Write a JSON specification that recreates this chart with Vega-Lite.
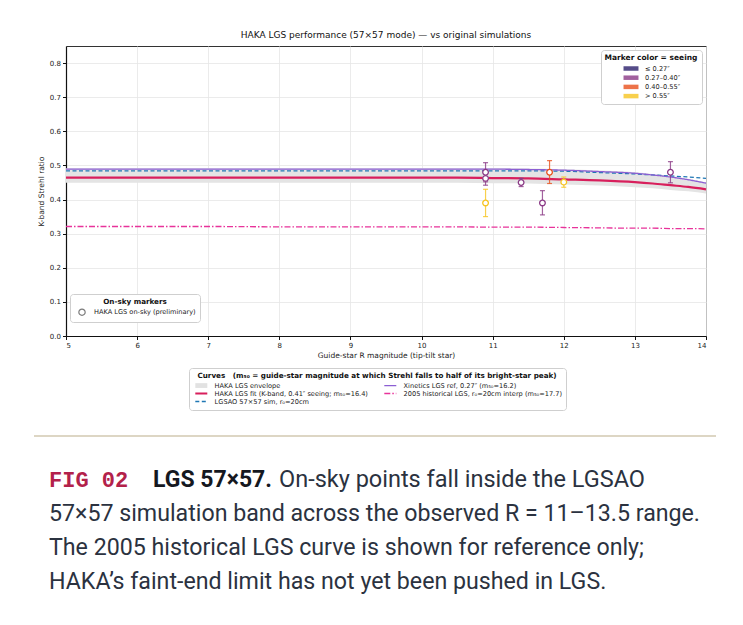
{
  "$schema": "https://vega.github.io/schema/vega-lite/v6.json",
  "background": "white",
  "padding": {"left": 33, "top": 30, "right": 20, "bottom": 10},
  "spacing": 75,
  "config": {
    "font": "DejaVu Sans",
    "view": {"stroke": "#333", "strokeWidth": 1},
    "axis": {"labelFontSize": 7, "titleFontSize": 7.5, "titleFontWeight": "normal", "gridColor": "#e6e6e6", "gridWidth": 0.8, "domainColor": "#111", "domainWidth": 1.2, "tickColor": "#111", "tickSize": 3.5, "labelColor": "#222", "titleColor": "#222", "labelPadding": 2, "labelOverlap": false},
    "axisY": {"labelOverlap": false, "tickCount": 9},
    "legend": {"fillColor": "white", "strokeColor": "#cfcfcf", "cornerRadius": 3, "padding": 4, "titleFont": "DejaVu Sans", "titleFontSize": 7.2, "titleFontWeight": "bold", "titleColor": "#111", "labelFont": "DejaVu Sans", "labelFontSize": 6.6, "labelColor": "#222", "titleAnchor": "middle", "rowPadding": 1.5, "titlePadding": 3, "titleLimit": 600, "labelLimit": 400}
  },
  "datasets": {
    "curves": [
      {"mag": 5, "fit": 0.464, "xin": 0.489, "lgsao": 0.484, "hist": 0.321},
      {"mag": 6, "fit": 0.464, "xin": 0.489, "lgsao": 0.484, "hist": 0.321},
      {"mag": 7, "fit": 0.464, "xin": 0.489, "lgsao": 0.484, "hist": 0.321},
      {"mag": 8, "fit": 0.464, "xin": 0.489, "lgsao": 0.484, "hist": 0.320},
      {"mag": 9, "fit": 0.464, "xin": 0.489, "lgsao": 0.484, "hist": 0.320},
      {"mag": 10, "fit": 0.464, "xin": 0.489, "lgsao": 0.484, "hist": 0.320},
      {"mag": 10.5, "fit": 0.464, "xin": 0.489, "lgsao": 0.484, "hist": 0.320},
      {"mag": 11, "fit": 0.463, "xin": 0.489, "lgsao": 0.484, "hist": 0.319},
      {"mag": 11.5, "fit": 0.462, "xin": 0.488, "lgsao": 0.484, "hist": 0.319},
      {"mag": 12, "fit": 0.459, "xin": 0.486, "lgsao": 0.483, "hist": 0.318},
      {"mag": 12.5, "fit": 0.456, "xin": 0.482, "lgsao": 0.479, "hist": 0.317},
      {"mag": 13, "fit": 0.451, "xin": 0.477, "lgsao": 0.475, "hist": 0.316},
      {"mag": 13.25, "fit": 0.447, "xin": 0.472, "lgsao": 0.472, "hist": 0.316},
      {"mag": 13.5, "fit": 0.442, "xin": 0.466, "lgsao": 0.469, "hist": 0.315},
      {"mag": 13.75, "fit": 0.437, "xin": 0.458, "lgsao": 0.466, "hist": 0.315},
      {"mag": 14, "fit": 0.430, "xin": 0.448, "lgsao": 0.462, "hist": 0.314}
    ],
    "envelope": [
      {"mag": 5, "lo": 0.449, "hi": 0.492},
      {"mag": 10.5, "lo": 0.449, "hi": 0.492},
      {"mag": 11, "lo": 0.448, "hi": 0.492},
      {"mag": 11.5, "lo": 0.447, "hi": 0.491},
      {"mag": 12, "lo": 0.444, "hi": 0.489},
      {"mag": 12.5, "lo": 0.441, "hi": 0.485},
      {"mag": 13, "lo": 0.436, "hi": 0.480},
      {"mag": 13.25, "lo": 0.433, "hi": 0.475},
      {"mag": 13.5, "lo": 0.428, "hi": 0.469},
      {"mag": 13.75, "lo": 0.424, "hi": 0.461},
      {"mag": 14, "lo": 0.418, "hi": 0.451}
    ],
    "points": [
      {"mag": 10.9, "strehl": 0.480, "lo": 0.452, "hi": 0.508, "seeing": "0.27–0.40″", "marker": "HAKA LGS on-sky (preliminary)"},
      {"mag": 10.9, "strehl": 0.462, "lo": 0.442, "hi": 0.482, "seeing": "0.27–0.40″", "marker": "HAKA LGS on-sky (preliminary)"},
      {"mag": 10.9, "strehl": 0.390, "lo": 0.350, "hi": 0.430, "seeing": "> 0.55″", "marker": "HAKA LGS on-sky (preliminary)"},
      {"mag": 11.4, "strehl": 0.450, "lo": 0.438, "hi": 0.462, "seeing": "0.27–0.40″", "marker": "HAKA LGS on-sky (preliminary)"},
      {"mag": 11.7, "strehl": 0.390, "lo": 0.355, "hi": 0.426, "seeing": "0.27–0.40″", "marker": "HAKA LGS on-sky (preliminary)"},
      {"mag": 11.8, "strehl": 0.480, "lo": 0.447, "hi": 0.514, "seeing": "0.40–0.55″", "marker": "HAKA LGS on-sky (preliminary)"},
      {"mag": 12.0, "strehl": 0.451, "lo": 0.436, "hi": 0.466, "seeing": "> 0.55″", "marker": "HAKA LGS on-sky (preliminary)"},
      {"mag": 13.5, "strehl": 0.480, "lo": 0.449, "hi": 0.511, "seeing": "0.27–0.40″", "marker": "HAKA LGS on-sky (preliminary)"}
    ],
    "caption": [
      {"line": 1, "part": "fig", "text": "FIG 02"},
      {"line": 1, "part": "lead", "text": "LGS 57×57."},
      {"line": 1, "part": "first", "text": "On-sky points fall inside the LGSAO"},
      {"line": 2, "part": "body", "text": "57×57 simulation band across the observed R = 11–13.5 range."},
      {"line": 3, "part": "body", "text": "The 2005 historical LGS curve is shown for reference only;"},
      {"line": 4, "part": "body", "text": "HAKA’s faint-end limit has not yet been pushed in LGS."}
    ]
  },
  "vconcat": [
    {
      "title": {"text": "HAKA LGS performance (57×57 mode) — vs original simulations", "fontSize": 9, "fontWeight": "normal", "font": "DejaVu Sans", "color": "#111", "offset": 6},
      "width": 640,
      "height": 290,
      "layer": [
        {
          "data": {"name": "envelope"},
          "mark": {"type": "area", "color": "#e4e4e4", "interpolate": "monotone"},
          "encoding": {
            "x": {"field": "mag", "type": "quantitative", "scale": {"domain": [5, 14], "nice": false, "zero": false}, "axis": {"values": [5, 6, 7, 8, 9, 10, 11, 12, 13, 14], "format": "d", "title": "Guide-star R magnitude (tip-tilt star)", "titlePadding": 3, "labelOverlap": false}},
            "y": {"field": "lo", "type": "quantitative", "scale": {"domain": [0, 0.85], "nice": false}, "axis": {"values": [0, 0.1, 0.2, 0.3, 0.4, 0.5, 0.6, 0.7, 0.8], "tickCount": 9, "format": ".1f", "title": "K-band Strehl ratio", "titlePadding": 4, "labelOverlap": false, "labelBound": false}},
            "y2": {"field": "hi"}
          }
        },
        {
          "data": {"name": "curves"},
          "transform": [{"fold": ["hist", "lgsao", "xin"], "as": ["series", "strehl"]}],
          "mark": {"type": "line", "interpolate": "monotone", "strokeWidth": 1.3},
          "encoding": {
            "x": {"field": "mag", "type": "quantitative"},
            "y": {"field": "strehl", "type": "quantitative", "axis": {"values": [0, 0.1, 0.2, 0.3, 0.4, 0.5, 0.6, 0.7, 0.8], "tickCount": 9, "format": ".1f", "title": "K-band Strehl ratio", "titlePadding": 4, "labelOverlap": false, "labelBound": false}},
            "stroke": {"field": "series", "type": "nominal",
              "scale": {"domain": ["env", "fit", "lgsao", "xin", "hist"], "range": ["#e2e2e2", "#d81f5c", "#1f77b4", "#8c5fd3", "#e8339a"]},
              "legend": {"title": "Curves\u00a0\u00a0\u00a0(m₅₀ = guide-star magnitude at which Strehl falls to half of its bright-star peak)", "orient": "none", "legendX": 123, "legendY": 322, "columns": 2, "columnPadding": 14, "rowPadding": 1, "symbolType": "M-2,0H2", "symbolSize": 36, "symbolOffset": 5, "labelOffset": 10, "symbolStrokeWidth": 1.3, "labelExpr": "datum.value == 'env' ? 'HAKA LGS envelope' : datum.value == 'xin' ? 'Xinetics LGS ref, 0.27″ (m₅₀=16.2)' : datum.value == 'fit' ? 'HAKA LGS fit (K-band, 0.41″ seeing; m₅₀=16.4)' : datum.value == 'hist' ? '2005 historical LGS, r₀=20cm interp (m₅₀=17.7)' : 'LGSAO 57×57 sim, r₀=20cm'",
                "encode": {"symbols": {"update": {"shape": {"signal": "datum.value == 'env' ? 'M-2,-0.8H2V0.8H-2Z' : 'M-2,-0.3M-2,0H2M2,0.3'"}, "strokeWidth": {"signal": "datum.value == 'env' ? 0 : datum.value == 'fit' ? 2.2 : 1.3"}, "strokeJoin": {"value": "round"}, "fill": {"signal": "datum.value == 'env' ? '#e2e2e2' : 'transparent'"}}}}}},
            "strokeDash": {"field": "series", "type": "nominal",
              "scale": {"domain": ["env", "fit", "lgsao", "xin", "hist"], "range": [[1, 0], [1, 0], [4, 2.5], [1, 0], [6, 2, 1.5, 2]]},
              "legend": {"title": "Curves\u00a0\u00a0\u00a0(m₅₀ = guide-star magnitude at which Strehl falls to half of its bright-star peak)", "orient": "none", "legendX": 123, "legendY": 322, "columns": 2, "columnPadding": 14, "rowPadding": 1, "symbolType": "M-2,0H2", "symbolSize": 36, "symbolOffset": 5, "labelOffset": 10, "symbolStrokeWidth": 1.3, "labelExpr": "datum.value == 'env' ? 'HAKA LGS envelope' : datum.value == 'xin' ? 'Xinetics LGS ref, 0.27″ (m₅₀=16.2)' : datum.value == 'fit' ? 'HAKA LGS fit (K-band, 0.41″ seeing; m₅₀=16.4)' : datum.value == 'hist' ? '2005 historical LGS, r₀=20cm interp (m₅₀=17.7)' : 'LGSAO 57×57 sim, r₀=20cm'",
                "encode": {"symbols": {"update": {"shape": {"signal": "datum.value == 'env' ? 'M-2,-0.8H2V0.8H-2Z' : 'M-2,-0.3M-2,0H2M2,0.3'"}, "strokeWidth": {"signal": "datum.value == 'env' ? 0 : datum.value == 'fit' ? 2.2 : 1.3"}, "strokeJoin": {"value": "round"}, "fill": {"signal": "datum.value == 'env' ? '#e2e2e2' : 'transparent'"}}}}}}
          }
        },
        {
          "data": {"name": "curves"},
          "mark": {"type": "line", "interpolate": "monotone", "strokeWidth": 2.2, "color": "#d81f5c"},
          "encoding": {
            "x": {"field": "mag", "type": "quantitative"},
            "y": {"field": "fit", "type": "quantitative"}
          }
        },
        {
          "data": {"name": "points"},
          "mark": {"type": "rule", "strokeWidth": 1.2, "opacity": 0.8},
          "encoding": {
            "x": {"field": "mag", "type": "quantitative"},
            "y": {"field": "lo", "type": "quantitative"},
            "y2": {"field": "hi"},
            "color": {"field": "seeing", "type": "nominal"}
          }
        },
        {
          "data": {"name": "points"},
          "mark": {"type": "tick", "orient": "horizontal", "size": 5, "thickness": 1.2, "opacity": 0.8},
          "encoding": {
            "x": {"field": "mag", "type": "quantitative"},
            "y": {"field": "lo", "type": "quantitative"},
            "color": {"field": "seeing", "type": "nominal"}
          }
        },
        {
          "data": {"name": "points"},
          "mark": {"type": "tick", "orient": "horizontal", "size": 5, "thickness": 1.2, "opacity": 0.8},
          "encoding": {
            "x": {"field": "mag", "type": "quantitative"},
            "y": {"field": "hi", "type": "quantitative"},
            "color": {"field": "seeing", "type": "nominal"}
          }
        },
        {
          "data": {"name": "points"},
          "mark": {"type": "point", "filled": false, "fill": "white", "fillOpacity": 1, "size": 32, "strokeWidth": 1.3, "opacity": 1},
          "encoding": {
            "x": {"field": "mag", "type": "quantitative"},
            "y": {"field": "strehl", "type": "quantitative"},
            "color": {"field": "seeing", "type": "nominal",
              "scale": {"domain": ["≤ 0.27″", "0.27–0.40″", "0.40–0.55″", "> 0.55″"], "range": ["#2b1f6b", "#8b3a86", "#e8501c", "#f6c420"]},
              "legend": {"title": "Marker color = seeing", "titleFontSize": 7.5, "orient": "none", "legendX": 535, "legendY": 4, "symbolType": "M-2,-0.6H2V0.6H-2Z", "symbolSize": 56, "symbolOffset": 5, "labelOffset": 10, "symbolStrokeWidth": 0, "rowPadding": 1.2, "encode": {"symbols": {"update": {"fill": {"scale": "color", "field": "value"}, "fillOpacity": {"value": 1}, "opacity": {"value": 1}, "strokeWidth": {"value": 0}}}}}}
          }
        },
        {
          "data": {"name": "points"},
          "transform": [{"filter": "datum.mag > 100"}],
          "mark": {"type": "point", "filled": false, "color": "#444", "size": 40, "strokeWidth": 1.2},
          "encoding": {
            "x": {"field": "mag", "type": "quantitative"},
            "y": {"field": "strehl", "type": "quantitative"},
            "shape": {"field": "marker", "type": "nominal", "scale": {"domain": ["HAKA LGS on-sky (preliminary)"], "range": ["circle"]},
              "legend": {"title": "On-sky markers", "orient": "none", "legendX": 4, "legendY": 248, "symbolSize": 40, "symbolStrokeColor": "#444", "symbolFillColor": "white", "symbolStrokeWidth": 1.2, "labelOffset": 8, "symbolOffset": 4}}
          }
        }
      ]
    },
    {
      "width": 640,
      "height": 170,
      "view": {"stroke": null},
      "data": {"name": "caption"},
      "layer": [
        {
          "mark": {"type": "rule", "color": "#ddd6c4", "strokeWidth": 2},
          "encoding": {
            "y": {"datum": -0.3, "type": "quantitative", "scale": {"domain": [-0.3, 4.7], "reverse": true, "nice": false, "zero": false}, "axis": null},
            "x": {"value": -32},
            "x2": {"value": 650}
          }
        },
        {
          "transform": [{"filter": "datum.part == 'fig'"}],
          "mark": {"type": "text", "align": "left", "baseline": "middle", "font": "Liberation Mono", "fontWeight": "bold", "fontSize": 22, "color": "#b3214a"},
          "encoding": {
            "y": {"field": "line", "type": "quantitative", "axis": null},
            "x": {"value": -17},
            "text": {"field": "text"}
          }
        },
        {
          "transform": [{"filter": "datum.part == 'lead'"}],
          "mark": {"type": "text", "align": "left", "baseline": "middle", "font": "Roboto", "fontWeight": "bold", "fontSize": 23, "color": "#15181f"},
          "encoding": {
            "y": {"field": "line", "type": "quantitative", "axis": null},
            "x": {"value": 87},
            "text": {"field": "text"}
          }
        },
        {
          "transform": [{"filter": "datum.part == 'first'"}],
          "mark": {"type": "text", "align": "left", "baseline": "middle", "font": "Roboto", "fontSize": 23.5, "color": "#2b3240"},
          "encoding": {
            "y": {"field": "line", "type": "quantitative", "axis": null},
            "x": {"value": 213},
            "text": {"field": "text"}
          }
        },
        {
          "transform": [{"filter": "datum.part == 'body'"}],
          "mark": {"type": "text", "align": "left", "baseline": "middle", "font": "Roboto", "fontSize": 23.2, "color": "#2b3240"},
          "encoding": {
            "y": {"field": "line", "type": "quantitative", "axis": null},
            "x": {"value": -17},
            "text": {"field": "text"}
          }
        }
      ]
    }
  ]
}
